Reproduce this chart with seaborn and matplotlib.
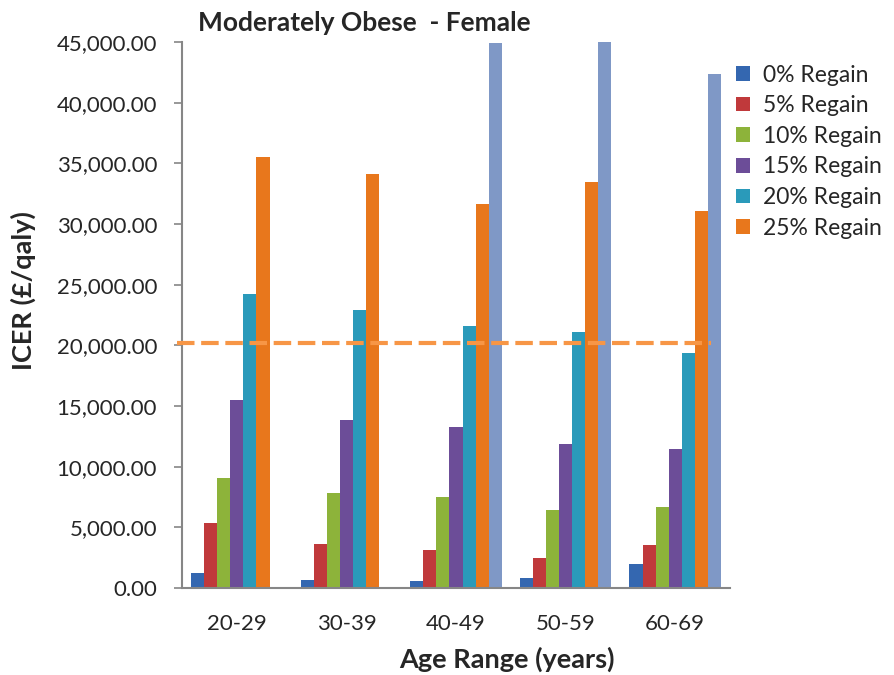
import numpy as np
import pandas as pd
import matplotlib
matplotlib.use("Agg")
import matplotlib.pyplot as plt
import seaborn as sns

age_groups = ["20-29", "30-39", "40-49", "50-59", "60-69"]
series_names = ["0% Regain", "5% Regain", "10% Regain", "15% Regain",
                "20% Regain", "25% Regain", "30% Regain"]
regain_0 = [1220, 640, 550, 820, 1950]
regain_5 = [5330, 3630, 3140, 2470, 3560]
regain_10 = [9050, 7830, 7460, 6400, 6640]
regain_15 = [15500, 13830, 13250, 11850, 11460]
regain_20 = [24190, 22880, 21600, 21080, 19350]
regain_25 = [35550, 34090, 31650, 33450, 31100]
regain_30 = [np.nan, np.nan, 44900, 52000, 42400]
threshold = 20200

values = [regain_0, regain_5, regain_10, regain_15, regain_20, regain_25, regain_30]
rows = []
for name, vals in zip(series_names, values):
    for g, v in zip(age_groups, vals):
        rows.append({"Age": g, "Series": name, "ICER": v})
df = pd.DataFrame(rows)

colors = ["#3467B0", "#C0393B", "#8DB33A", "#6C4D98", "#2A9ABA", "#E8771C", "#7F98C6"]

sns.set_style("white")
plt.rcParams["font.family"] = ["Lato", "DejaVu Sans"]

fig = plt.figure(figsize=(8.94, 6.75), dpi=100)
ax = fig.add_axes([0.2036, 0.1289, 0.6130, 0.8089])

sns.barplot(data=df, x="Age", y="ICER", hue="Series", hue_order=series_names,
            order=age_groups, palette=colors, width=0.835, ax=ax,
            edgecolor="none", linewidth=0, saturation=1, errorbar=None)

ax.set_ylim(0, 45000)
ax.set_xlim(-0.5, 4.5)
ax.set_yticks(np.arange(0, 45001, 5000))
ax.set_yticklabels([f"{v:,.2f}" for v in np.arange(0, 45001, 5000)], fontsize=16)
ax.set_xticks(range(5))
ax.set_xticklabels(age_groups, fontsize=16)
ax.set_xticks(np.arange(-0.5, 5, 1), minor=True)
ax.tick_params(axis="x", which="major", length=0, pad=19)
ax.tick_params(axis="x", which="minor", length=7, color="#868686", width=1.2, direction="out")
ax.tick_params(axis="y", length=6, color="#868686", width=1.2, direction="out", pad=12, left=True)

for s in ["top", "right"]:
    ax.spines[s].set_visible(False)
for s in ["left", "bottom"]:
    ax.spines[s].set_color("#868686")
    ax.spines[s].set_linewidth(1.5)

ax.hlines(threshold, -0.55, 4.33, colors="#F79646", linewidth=3.0,
          linestyles=(0, (4.2, 1.6)), clip_on=False, zorder=5)

ax.set_xlabel("Age Range (years)", fontsize=19.5, fontweight="bold")
ax.set_ylabel("ICER (£/qaly)", fontsize=19.5, fontweight="bold")
ax.xaxis.set_label_coords(0.593, -0.108)
ax.yaxis.set_label_coords(-0.266, 0.544)
ax.set_title("Moderately Obese  - Female", fontsize=19, fontweight="bold",
             loc="left", x=0.03, y=1.0, pad=8)

handles, labels = ax.get_legend_handles_labels()
ax.legend(handles[:6], labels[:6], loc="upper left", bbox_to_anchor=(0.813, 0.918),
          bbox_transform=fig.transFigure, frameon=False, fontsize=16.5,
          handlelength=0.6, handleheight=0.6, handletextpad=0.6, labelspacing=0.42,
          borderaxespad=0)

fig.savefig("out.png", dpi=100)
